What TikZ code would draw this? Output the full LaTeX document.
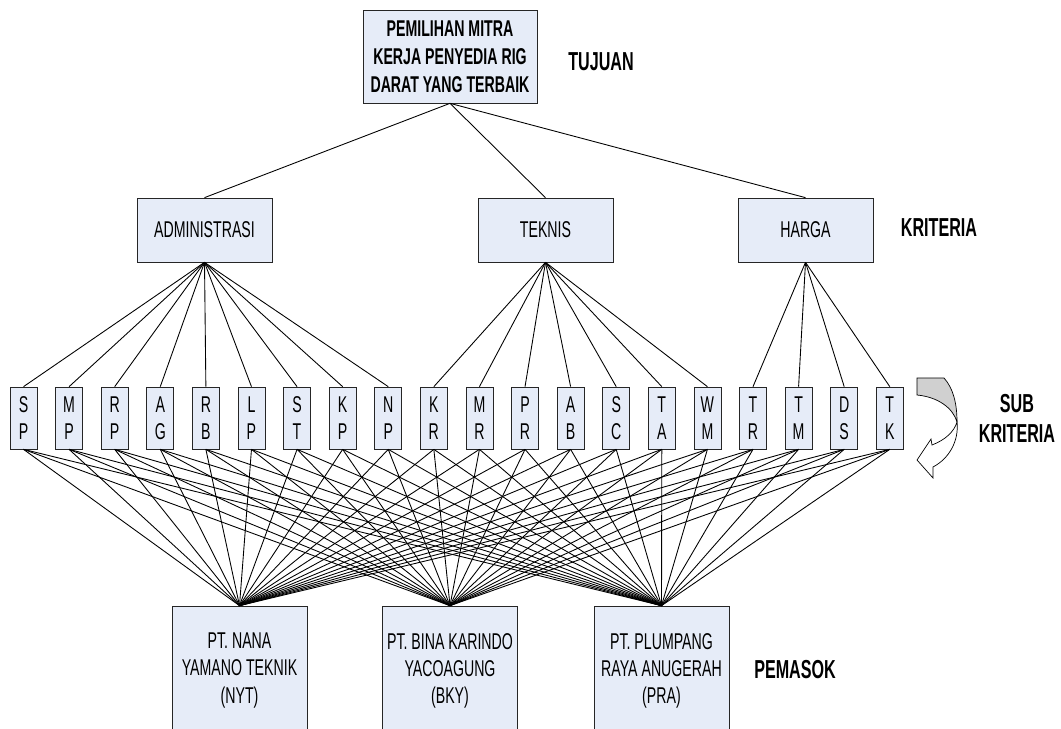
\documentclass[tikz,border=0pt]{standalone}
\usepackage{fontspec}
\newfontfamily\narrowfont{Liberation Sans}[FakeStretch=0.62]
\usetikzlibrary{positioning}
\definecolor{boxblue}{RGB}{230,236,248}
\definecolor{arrowgray}{RGB}{208,208,208}

\begin{document}
\begin{tikzpicture}[
  x=0.02cm, y=-0.02cm,
  node distance=0cm and 0.358cm,
  every node/.style={align=center, font=\narrowfont\fontsize{13}{15.4}\selectfont},
  box/.style={draw=black!85, fill=boxblue, inner sep=1pt},
  goalbox/.style={box, minimum width=3.48cm, minimum height=1.86cm, font=\narrowfont\bfseries\fontsize{13}{15.9}\selectfont},
  critbox/.style={box, minimum width=2.7cm, minimum height=1.28cm},
  subbox/.style={box, minimum width=0.54cm, minimum height=1.24cm},
  supbox/.style={box, minimum width=2.7cm, minimum height=2.58cm},
  level/.style={font=\narrowfont\bfseries\fontsize{14.8}{17}\selectfont},
  link/.style={draw=black, line width=0.5pt}
]
\useasboundingbox (0,0) rectangle (1061,729);
\clip (0,0) rectangle (1061,729);

% Goal
\node[goalbox] (goal) at (450,56.5) {PEMILIHAN MITRA\\KERJA PENYEDIA RIG\\DARAT YANG TERBAIK};
\node[level] (goal_label) at (601,62) {TUJUAN};

% Criteria
\node[critbox] (admin) at (204.5,230) {ADMINISTRASI};
\node[critbox] (teknis) at (545.5,230) {TEKNIS};
\node[critbox] (harga) at (805.5,230) {HARGA};
\node[level] (crit_label) at (939,228) {KRITERIA};

% Sub criteria
\node[subbox] (sp) at (23.5,418) {S\\P};
\node[subbox] (mp) [right=of sp] {M\\P};
\node[subbox] (rp) [right=of mp] {R\\P};
\node[subbox] (ag) [right=of rp] {A\\G};
\node[subbox] (rb) [right=of ag] {R\\B};
\node[subbox] (lp) [right=of rb] {L\\P};
\node[subbox] (st) [right=of lp] {S\\T};
\node[subbox] (kp) [right=of st] {K\\P};
\node[subbox] (np) [right=of kp] {N\\P};
\node[subbox] (kr) [right=of np] {K\\R};
\node[subbox] (mr) [right=of kr] {M\\R};
\node[subbox] (pr) [right=of mr] {P\\R};
\node[subbox] (ab) [right=of pr] {A\\B};
\node[subbox] (sc) [right=of ab] {S\\C};
\node[subbox] (ta) [right=of sc] {T\\A};
\node[subbox] (wm) [right=of ta] {W\\M};
\node[subbox] (tr) [right=of wm] {T\\R};
\node[subbox] (tm) [right=of tr] {T\\M};
\node[subbox] (ds) [right=of tm] {D\\S};
\node[subbox] (tk) [right=of ds] {T\\K};
\node[level] (sub_label) at (1017,418) {SUB\\KRITERIA};

% Suppliers
\node[supbox] (nyt) at (239.5,670.5) {PT. NANA\\YAMANO TEKNIK\\(NYT)};
\node[supbox] (bky) at (450,670.5) {PT. BINA KARINDO\\YACOAGUNG\\(BKY)};
\node[supbox] (pra) at (661.5,670.5) {PT. PLUMPANG\\RAYA ANUGERAH\\(PRA)};
\node[level] (sup_label) at (795,670) {PEMASOK};

% Links
\draw[link] (goal.south) -- (admin.north);
\draw[link] (goal.south) -- (teknis.north);
\draw[link] (goal.south) -- (harga.north);
\foreach \s in {sp,mp,rp,ag,rb,lp,st,kp,np}
  \draw[link] (admin.south) -- (\s.north);
\foreach \s in {kr,mr,pr,ab,sc,ta,wm}
  \draw[link] (teknis.south) -- (\s.north);
\foreach \s in {tr,tm,ds,tk}
  \draw[link] (harga.south) -- (\s.north);
\foreach \s in {sp,mp,rp,ag,rb,lp,st,kp,np,kr,mr,pr,ab,sc,ta,wm,tr,tm,ds,tk}
  \foreach \p in {nyt,bky,pra}
    \draw[link] (\s.south) -- (\p.north);

% Turning arrow
\filldraw[fill=arrowgray, draw=black, line width=0.4pt]
  (917,378) -- (917,395) .. controls (938,397) and (953,408) .. (957,422)
  .. controls (957,403) and (953,388) .. (944,378) -- cycle;
\filldraw[fill=white, draw=black, line width=0.4pt]
  (957,422) .. controls (959,440) and (950,458) .. (933,467)
  -- (933,478) -- (917,460) -- (931,439) -- (932,445)
  .. controls (945,440) and (954,432) .. (957,422) -- cycle;

\end{tikzpicture}
\end{document}
